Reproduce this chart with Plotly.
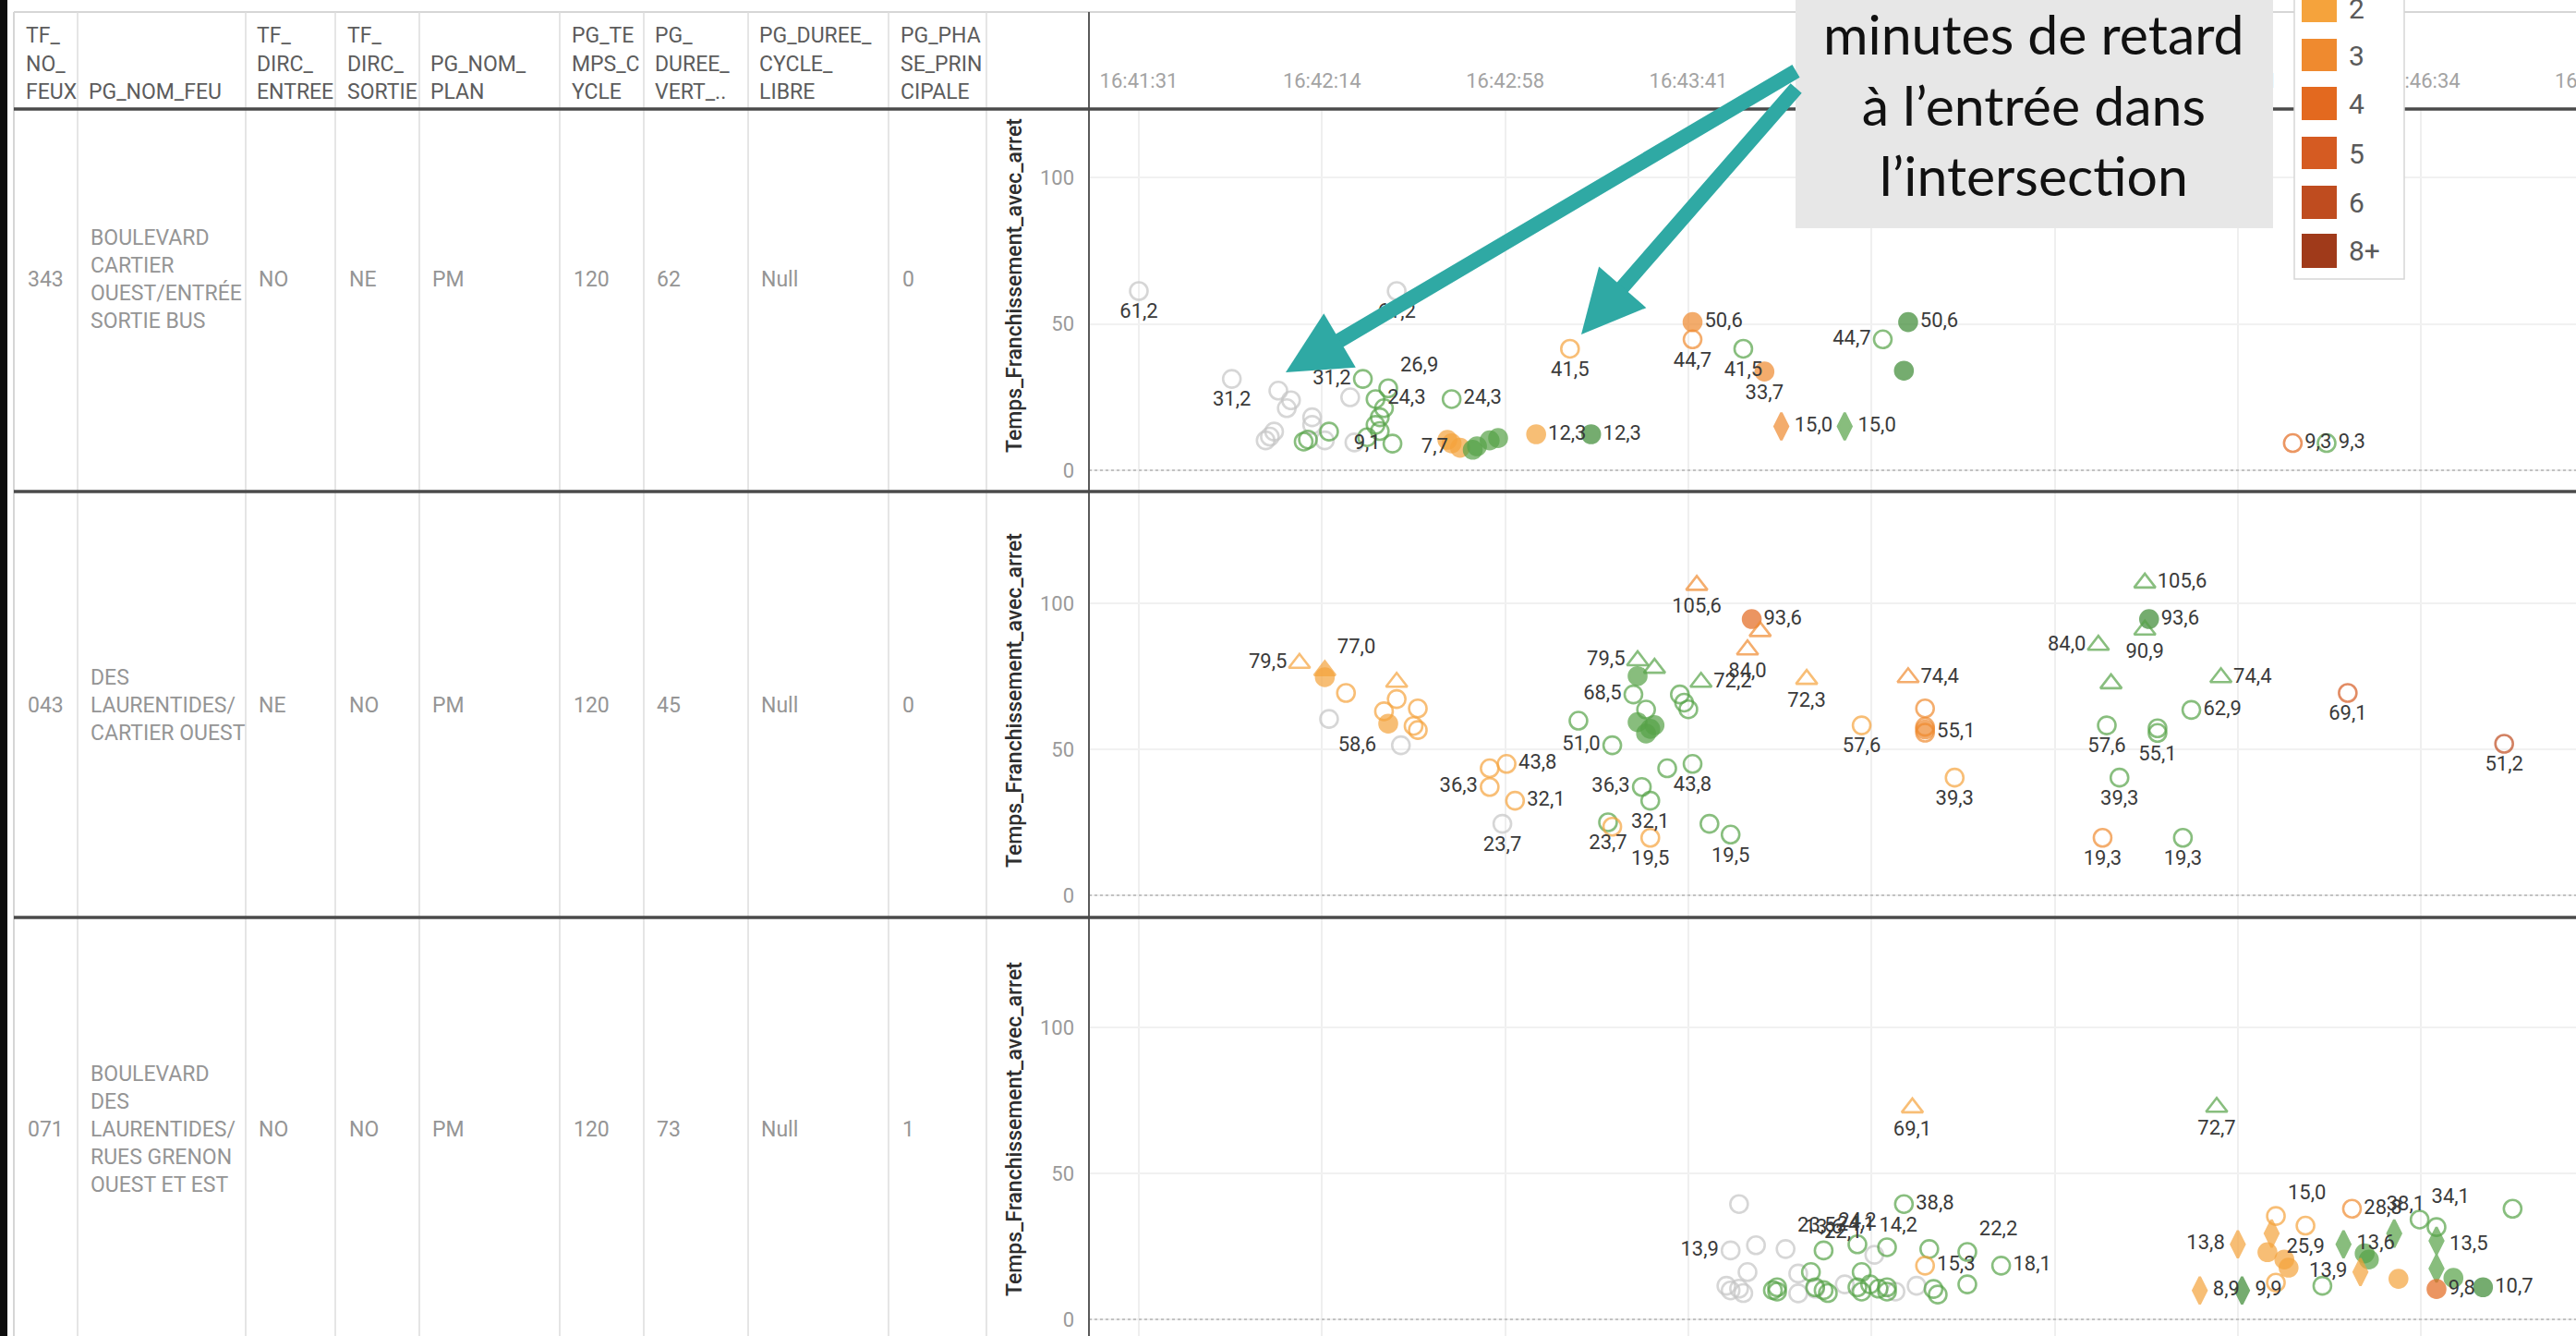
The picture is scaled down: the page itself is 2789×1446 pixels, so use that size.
import plotly.graph_objects as go

W, H = 2789, 1446
DAY = "2023-01-01 "
FONT = "Roboto, 'Liberation Sans', Arial, sans-serif"

# ---------------- x axis (time) ----------------
tick_times = ["16:41:31", "16:42:14.333", "16:42:57.667", "16:43:41",
              "16:44:24.333", "16:45:07.667", "16:45:51", "16:46:34.333"]
tick_labels = ["16:41:31", "16:42:14", "16:42:58", "16:43:41",
               "16:44:24", "16:45:08", "16:45:51", "16:46:34"]
cut_tick_label = "16:47:18"
x_start, x_end = "16:41:19.2", "16:47:11"

# ---------------- y axis ----------------
y_ticks = [0, 50, 100]
y_title = "Temps_Franchissement_avec_arret"

# ---------------- table ----------------
header_lines = [["TF_", "NO_", "FEUX"], ["", "", "PG_NOM_FEU"], ["TF_", "DIRC_", "ENTREE"],
                ["TF_", "DIRC_", "SORTIE"], ["", "PG_NOM_", "PLAN"], ["PG_TE", "MPS_C", "YCLE"],
                ["PG_", "DUREE_", "VERT_.."], ["PG_DUREE_", "CYCLE_", "LIBRE"],
                ["PG_PHA", "SE_PRIN", "CIPALE"]]
row_no = ["343", "043", "071"]
row_name = [["BOULEVARD", "CARTIER", "OUEST/ENTRÉE", "SORTIE BUS"],
            ["DES", "LAURENTIDES/", "CARTIER OUEST"],
            ["BOULEVARD", "DES", "LAURENTIDES/", "RUES GRENON", "OUEST ET EST"]]
row_entree = ["NO", "NE", "NO"]
row_sortie = ["NE", "NO", "NO"]
row_plan = ["PM", "PM", "PM"]
row_cycle = ["120", "120", "120"]
row_vert = ["62", "45", "73"]
row_libre = ["Null", "Null", "Null"]
row_phase = ["0", "0", "1"]

# ---------------- legend / callout ----------------
legend_labels = ["2", "3", "4", "5", "6", "8+"]
legend_colors = ["#f5a33c", "#ef8a2f", "#e3691f", "#d55b22", "#bf4c1f", "#a03a1a"]
callout_text = "minutes de retard<br>à l’entrée dans<br>l’intersection"

# ---------------- marks: row 1 (343) ----------------
r1_time = ["16:41:31", "16:42:32", "16:41:53", "16:42:04", "16:42:07", "16:42:06", "16:42:12",
           "16:42:12", "16:42:03", "16:42:01", "16:42:02", "16:42:21", "16:42:22", "16:42:15",
           "16:42:10", "16:42:11", "16:42:16", "16:42:24", "16:42:30", "16:42:27", "16:42:29",
           "16:42:28", "16:42:27", "16:42:28", "16:42:25", "16:42:31", "16:42:45",
           "16:42:44", "16:42:45", "16:42:47", "16:42:50", "16:42:51", "16:42:54", "16:42:56",
           "16:43:05", "16:43:18", "16:43:13",
           "16:43:42", "16:43:42", "16:43:54", "16:43:59", "16:44:03", "16:44:18", "16:44:27",
           "16:44:33", "16:44:32", "16:46:04", "16:46:12"]
r1_val = [61.2, 61.2, 31.2, 27.2, 23.9, 21.2, 18.1, 15.5, 13.2, 10.2, 11.5, 24.9, 9.5, 10.2,
          9.8, 10.5, 13.2, 31.2, 28.0, 24.3, 21.2, 18.1, 15.5, 13.4, 11.3, 9.1, 24.3,
          10.4, 9.2, 7.7, 7.0, 8.2, 10.2, 11.0, 12.3, 12.3, 41.5,
          50.6, 44.7, 41.5, 33.7, 15.0, 15.0, 44.7, 50.6, 34.0, 9.3, 9.3]
r1_cat = ["G"] * 14 + ["V"] * 13 + \
         ["2", "2", "2", "V", "V", "V", "V", "2", "DV", "2"] + \
         ["3", "3", "V", "3", "3", "V", "V", "DV", "DV", "4", "V"]
r1_sym = ["o"] * 14 + ["o"] * 13 + \
         ["c", "c", "c", "c", "c", "c", "c", "c", "c", "o"] + \
         ["c", "o", "o", "c", "d", "d", "o", "c", "c", "o", "o"]
r1_lab = ["61,2", "61,2", "31,2"] + [""] * 11 + \
         ["", "", "", "31,2", "26,9", "24,3", "", "", "", "", "", "9,1", "24,3"] + \
         ["", "", "7,7", "", "", "", "", "12,3", "12,3", "41,5"] + \
         ["50,6", "44,7", "41,5", "33,7", "15,0", "15,0", "44,7", "50,6", "", "9,3", "9,3"]
r1_pos = ["bc"] * 14 + \
         ["bc", "bc", "bc", "ml", "tr", "mr", "bc", "bc", "bc", "bc", "bc", "ml", "mr"] + \
         ["bc", "bc", "ml", "bc", "bc", "bc", "bc", "mr", "mr", "bc"] + \
         ["mr", "bc", "bc", "bc", "mr", "mr", "ml", "mr", "bc", "mr", "mr"]

# ---------------- marks: row 2 (043) ----------------
r2_time = ["16:42:09", "16:42:15", "16:42:15", "16:42:20", "16:42:32", "16:42:32", "16:42:29", "16:42:37", "16:42:30", "16:42:36",
           "16:42:37", "16:42:16", "16:42:33", "16:42:58", "16:42:54", "16:42:54", "16:43:00", "16:42:57", "16:43:29", "16:43:33",
           "16:43:29", "16:43:28", "16:43:39", "16:43:40", "16:43:41", "16:43:44", "16:43:31", "16:43:29", "16:43:32", "16:43:31",
           "16:43:33", "16:43:15", "16:43:23", "16:43:36", "16:43:42", "16:43:30", "16:43:32", "16:43:22", "16:43:23", "16:43:32",
           "16:43:46", "16:43:51", "16:43:43", "16:43:56", "16:43:58", "16:43:55", "16:44:09", "16:44:22", "16:44:33", "16:44:37",
           "16:44:37", "16:44:37", "16:44:37", "16:44:44", "16:45:29", "16:45:30", "16:45:29", "16:45:18", "16:45:21", "16:45:47",
           "16:45:40", "16:45:20", "16:45:32", "16:45:32", "16:45:23", "16:45:19", "16:45:38", "16:46:17", "16:46:54"]
r2_val = [79.5, 77.0, 74.7, 69.3, 73.0, 67.2, 63.0, 64.0, 58.8, 58.0,
          56.6, 60.4, 51.4, 45.0, 43.5, 37.1, 32.4, 24.5, 80.4, 77.8,
          75.1, 68.8, 68.8, 66.0, 63.7, 73.0, 63.6, 59.3, 57.0, 55.4,
          58.3, 59.8, 51.4, 43.5, 45.0, 37.1, 32.4, 25.0, 23.5, 19.7,
          24.5, 20.8, 106.2, 94.6, 90.4, 84.1, 74.0, 58.2, 74.6, 64.0,
          57.7, 55.7, 56.8, 40.3, 107.0, 94.6, 90.9, 85.7, 72.5, 74.6,
          63.5, 58.2, 57.2, 55.6, 40.3, 19.7, 19.7, 69.3, 51.9]
r2_cat = ["2", "2", "2", "2", "2", "2", "2", "2", "2", "2",
          "2", "G", "G", "2", "2", "2", "2", "G", "V", "V",
          "V", "V", "V", "V", "V", "V", "V", "V", "V", "V",
          "V", "V", "V", "V", "V", "V", "V", "V", "2", "2",
          "V", "V", "3", "4", "3", "3", "2", "2", "3", "3",
          "3", "3", "3", "2", "V", "DV", "V", "V", "V", "V",
          "V", "V", "V", "V", "V", "3", "V", "5", "6"]
r2_sym = ["t", "T", "c", "o", "t", "o", "o", "o", "c", "o",
          "o", "o", "o", "o", "o", "o", "o", "o", "t", "t",
          "c", "o", "o", "o", "o", "t", "o", "c", "c", "c",
          "c", "o", "o", "o", "o", "o", "o", "o", "o", "o",
          "o", "o", "t", "c", "t", "t", "t", "o", "t", "o",
          "o", "o", "c", "o", "t", "c", "t", "t", "t", "t",
          "o", "o", "o", "o", "o", "o", "o", "o", "o"]
r2_lab = ["79,5", "77,0", "", "", "", "", "", "", "58,6", "",
          "", "", "", "43,8", "", "36,3", "32,1", "23,7", "79,5", "",
          "", "68,5", "", "", "", "72,2", "", "", "", "",
          "", "", "51,0", "", "43,8", "36,3", "32,1", "23,7", "", "19,5",
          "", "19,5", "105,6", "93,6", "", "84,0", "72,3", "57,6", "74,4", "",
          "", "55,1", "", "39,3", "105,6", "93,6", "90,9", "84,0", "", "74,4",
          "62,9", "57,6", "", "55,1", "39,3", "19,3", "19,3", "69,1", "51,2"]
r2_pos = ["ml", "tr", "bc", "bc", "bc", "bc", "bc", "bc", "bl", "bc",
          "bc", "bc", "bc", "mr", "bc", "ml", "mr", "bc", "ml", "bc",
          "bc", "ml", "bc", "bc", "bc", "mr", "bc", "bc", "bc", "bc",
          "bc", "bc", "ml", "bc", "bc", "ml", "bc", "bc", "bc", "bc",
          "bc", "bc", "bc", "mr", "bc", "bc", "bc", "bc", "mr", "bc",
          "bc", "mr", "bc", "bc", "mr", "mr", "bc", "ml", "bc", "mr",
          "mr", "bc", "bc", "bc", "bc", "bc", "bc", "bc", "bc"]

# ---------------- marks: row 3 (071) ----------------
r3_time = ["16:44:34", "16:45:46", "16:43:53", "16:44:32", "16:43:51", "16:43:57", "16:44:04", "16:43:55", "16:43:50", "16:43:51",
           "16:43:53", "16:43:54", "16:44:07", "16:44:07", "16:44:25", "16:44:35", "16:44:18", "16:44:30", "16:44:11", "16:44:01",
           "16:44:02", "16:44:02", "16:44:10", "16:44:11", "16:44:13", "16:44:14", "16:44:13", "16:44:21", "16:44:22", "16:44:21",
           "16:44:22", "16:44:24", "16:44:26", "16:44:28", "16:44:28", "16:44:28", "16:44:38", "16:44:37", "16:44:39", "16:44:47",
           "16:44:47", "16:44:55", "16:44:40", "16:45:51", "16:45:42", "16:45:52", "16:46:00", "16:45:59", "16:45:58", "16:46:02",
           "16:46:03", "16:46:07", "16:46:00", "16:46:18", "16:46:16", "16:46:21", "16:46:22", "16:46:20", "16:46:11", "16:46:28",
           "16:46:34", "16:46:38", "16:46:38", "16:46:29", "16:46:38", "16:46:42", "16:46:38", "16:46:49", "16:46:56"]
r3_val = [72.5, 72.7, 39.5, 39.5, 23.6, 25.4, 24.1, 16.2, 11.5, 9.9,
          10.5, 9.0, 15.7, 8.9, 22.1, 11.5, 12.0, 9.5, 10.5, 10.0,
          11.0, 9.5, 16.2, 11.0, 10.0, 9.0, 23.6, 25.7, 16.2, 11.0,
          9.5, 12.0, 10.5, 11.0, 9.5, 24.7, 24.1, 18.4, 10.4, 23.1,
          12.0, 18.4, 8.5, 25.7, 9.9, 9.9, 35.4, 29.4, 23.0, 20.5,
          17.7, 32.1, 12.6, 37.9, 25.7, 22.6, 20.5, 16.2, 11.5, 29.4,
          34.2, 31.6, 26.9, 13.9, 17.4, 14.2, 10.4, 11.0, 37.9]
r3_cat = ["2", "V", "G", "V", "G", "G", "G", "G", "G", "G",
          "G", "G", "G", "G", "G", "G", "G", "G", "G", "V",
          "V", "V", "V", "V", "V", "V", "V", "V", "V", "V",
          "V", "V", "V", "V", "V", "V", "V", "2", "V", "V",
          "V", "V", "V", "2", "2", "DV", "2", "2", "2", "2",
          "2", "2", "2", "3", "V", "V", "V", "2", "V", "V",
          "V", "V", "V", "2", "V", "V", "4", "DV", "V"]
r3_sym = ["t", "t", "o", "o", "o", "o", "o", "o", "o", "o",
          "o", "o", "o", "o", "o", "o", "o", "o", "o", "o",
          "o", "o", "o", "o", "o", "o", "o", "o", "o", "o",
          "o", "o", "o", "o", "o", "o", "o", "o", "o", "o",
          "o", "o", "o", "d", "d", "d", "o", "d", "c", "c",
          "c", "o", "o", "o", "d", "c", "c", "d", "o", "d",
          "o", "o", "d", "c", "d", "c", "c", "c", "o"]
r3_lab = ["69,1", "72,7", "", "38,8", "13,9", "", "23,5", "", "", "",
          "", "", "", "", "22,1", "", "", "", "", "",
          "", "", "", "", "", "", "13,6", "24,2", "", "",
          "", "", "", "", "", "24,1", "14,2", "15,3", "", "22,2",
          "", "18,1", "", "13,8", "8,9", "9,9", "15,0", "", "", "",
          "", "25,9", "", "28,8", "13,6", "", "", "13,9", "", "",
          "34,1", "38,1", "", "", "13,5", "", "9,8", "10,7", ""]
r3_pos = ["bc", "bc", "bc", "mr", "ml", "bc", "tr", "bc", "bc", "bc",
          "bc", "bc", "bc", "bc", "tl", "bc", "bc", "bc", "bc", "bc",
          "bc", "bc", "bc", "bc", "bc", "bc", "tc", "tc", "bc", "bc",
          "bc", "bc", "bc", "bc", "bc", "tl", "tl", "mr", "bc", "tr",
          "bc", "mr", "bc", "ml", "mr", "mr", "tr", "bc", "bc", "bc",
          "bc", "bc", "bc", "mr", "mr", "bc", "bc", "ml", "bc", "bc",
          "tr", "tl", "bc", "bc", "tr", "bc", "mr", "mr", "bc"]

# ---------------- styles ----------------
COL = {"G": "#c4c4c4", "V": "#56a247", "DV": "#3b8a33", "2": "#f5a33c",
       "3": "#ef8a2f", "4": "#e3691f", "5": "#d55b22", "6": "#bf4c1f"}
SYM = {"o": "circle-open", "c": "circle", "t": "triangle-up-open",
       "T": "triangle-up", "d": "diamond-tall"}
SIZE = {"o": 19, "c": 19, "t": 20, "T": 20, "d": 21}
POS = {"bc": "bottom center", "tc": "top center", "ml": "middle left", "mr": "middle right",
       "tr": "top right", "tl": "top left", "bl": "bottom left"}


def xp(p):
    return p / W


def yp(p):
    return 1 - p / H


AX_X = 1179
rows_px = [dict(top=118, bottom=532, zero=509, hundred=192, mid=302, title=309),
           dict(top=532, bottom=993, zero=969, hundred=653, mid=763, title=758),
           dict(top=993, bottom=1446, zero=1428, hundred=1112, mid=1222, title=1222)]

fig = go.Figure()
data_rows = [(r1_time, r1_val, r1_cat, r1_sym, r1_lab, r1_pos),
             (r2_time, r2_val, r2_cat, r2_sym, r2_lab, r2_pos),
             (r3_time, r3_val, r3_cat, r3_sym, r3_lab, r3_pos)]
for i, (tt, vv, cc, ss, ll, pp) in enumerate(data_rows):
    sfx = "" if i == 0 else str(i + 1)
    cols = [COL[c] for c in cc]
    fig.add_trace(go.Scatter(
        x=[DAY + t for t in tt], y=vv, xaxis="x" + sfx, yaxis="y" + sfx,
        mode="markers+text", text=ll, textposition=[POS[p] for p in pp],
        textfont=dict(family=FONT, size=22, color="#3a3a3a"),
        marker=dict(symbol=[SYM[s] for s in ss], color=cols, size=[SIZE[s] for s in ss],
                    line=dict(width=2.6, color=cols)),
        hoverinfo="skip", showlegend=False))

layout = dict(width=W, height=H, margin=dict(l=0, r=0, t=0, b=0),
              paper_bgcolor="white", plot_bgcolor="rgba(0,0,0,0)",
              showlegend=False, hovermode=False)

for i, r in enumerate(rows_px):
    sfx = "" if i == 0 else str(i + 1)
    span = r["zero"] - r["hundred"]
    lo = (r["zero"] - r["bottom"]) / span * 100
    hi = (r["zero"] - r["top"]) / span * 100
    xa = dict(domain=[xp(AX_X), 1], anchor="y" + sfx, type="date",
              range=[DAY + x_start, DAY + x_end],
              tickvals=[DAY + t for t in tick_times], ticktext=tick_labels,
              showgrid=True, gridcolor="#efefef", gridwidth=2, zeroline=False,
              showline=False, ticks="", automargin=False)
    if i == 0:
        xa.update(side="top", showticklabels=True, ticklabelstandoff=18,
                  tickfont=dict(family=FONT, size=22, color="#a3a3a3"))
    else:
        xa.update(matches="x", showticklabels=False)
    ya = dict(domain=[yp(r["bottom"]), yp(r["top"])], anchor="x" + sfx,
              range=[lo, hi], tickvals=y_ticks, ticktext=[str(v) for v in y_ticks],
              showgrid=True, gridcolor="#f1f1f1", gridwidth=2, zeroline=False,
              showline=False, ticks="", ticklabelstandoff=15, automargin=False,
              tickfont=dict(family=FONT, size=22, color="#9a9a9a"))
    layout["xaxis" + sfx] = xa
    layout["yaxis" + sfx] = ya

shapes = []


def line(x0, y0, x1, y1, color, width, dash="solid", yref="paper", yv=None):
    d = dict(type="line", xref="paper", x0=xp(x0), x1=xp(x1), line=dict(color=color, width=width, dash=dash),
             layer="above")
    if yv is None:
        d.update(yref="paper", y0=yp(y0), y1=yp(y1))
    else:
        d.update(yref=yref, y0=yv, y1=yv)
    shapes.append(d)


def rect(x0, y0, x1, y1, fill, lc=None, lw=0):
    shapes.append(dict(type="rect", xref="paper", yref="paper", x0=xp(x0), x1=xp(x1),
                       y0=yp(y0), y1=yp(y1), fillcolor=fill,
                       line=dict(color=lc or fill, width=lw), layer="above"))


# table grid
line(15, 13, W, 13, "#d6d6d6", 2)
line(15, 13, 15, H, "#d6d6d6", 2)
for cx in [84, 266, 363, 454, 606, 697, 810, 962, 1068]:
    line(cx, 13, cx, H, "#dcdcdc", 1.5)
for i in range(3):
    sfx = "" if i == 0 else str(i + 1)
    line(AX_X, 0, W, 0, "#c2c2c2", 2, dash="dot", yref="y" + sfx, yv=0)
line(AX_X, 13, AX_X, H, "#5a5a5a", 2)
for yy in [118, 532, 993]:
    line(15, yy, W, yy, "#4a4a4a", 3.5)
rect(0, -5, 8, H + 5, "#0d0d0d")

# callout box and legend
rect(1944, -10, 2461, 247, "#e7e7e7")
rect(2484, -10, 2603, 302, "white", "#d6d6d6", 1.5)
sw_y = [(-10, 24), (42, 77), (94, 130), (148, 183), (201, 237), (253, 290)]
for (a, b), c in zip(sw_y, legend_colors):
    rect(2492, a, 2530, b, c)

ann = []
hx = [26, 94, 276, 374, 464, 617, 707, 820, 973]
for x, lines in zip(hx, header_lines):
    for yy, t in zip([38, 69, 100], lines):
        if t:
            ann.append(dict(x=xp(x), y=yp(yy), xref="paper", yref="paper", text=t, showarrow=False,
                            xanchor="left", yanchor="middle", font=dict(family=FONT, size=23, color="#5c5c5c")))
cell_cols = [row_no, ["<br>".join(n) for n in row_name], row_entree, row_sortie, row_plan,
             row_cycle, row_vert, row_libre, row_phase]
for x, col in zip(hx, cell_cols):
    for r, t in zip(rows_px, col):
        ann.append(dict(x=xp(x + 2), y=yp(r["mid"]), xref="paper", yref="paper", text=t, showarrow=False,
                        xanchor="left", yanchor="middle", align="left",
                        font=dict(family=FONT, size=23, color="#959595")))
for r in rows_px:
    ann.append(dict(x=xp(1098), y=yp(r["title"]), xref="paper", yref="paper", text=y_title,
                    showarrow=False, textangle=-90, xanchor="center", yanchor="middle",
                    font=dict(family=FONT, size=23, color="#2e2e2e", weight=500)))

# cut-off last tick label
ann.append(dict(x=xp(2808), y=yp(87), xref="paper", yref="paper", text=cut_tick_label, showarrow=False,
                xanchor="center", yanchor="middle", font=dict(family=FONT, size=22, color="#a3a3a3")))

# arrows
for (hx_, hy_), (tx_, ty_) in [((1392, 403), (1946, 76)), ((1712, 362), (1946, 94))]:
    ann.append(dict(x=xp(hx_), y=yp(hy_), xref="paper", yref="paper", text="", showarrow=True,
                    ax=tx_ - hx_, ay=ty_ - hy_, axref="pixel", ayref="pixel",
                    arrowhead=2, arrowsize=0.85, arrowwidth=16, arrowcolor="#2fa9a4", standoff=0))

ann.append(dict(x=xp(2202), y=yp(113), xref="paper", yref="paper", text=callout_text, showarrow=False,
                xanchor="center", yanchor="middle", align="center",
                font=dict(family="Lato, 'Open Sans', sans-serif", size=59, color="#111111")))

leg_y = [10, 61, 113, 166, 219, 271]
for yy, t in zip(leg_y, legend_labels):
    ann.append(dict(x=xp(2541), y=yp(yy), xref="paper", yref="paper", text=t, showarrow=False,
                    xanchor="left", yanchor="middle", font=dict(family=FONT, size=30, color="#5a5a5a")))

layout["shapes"] = shapes
layout["annotations"] = ann
fig.update_layout(**layout)
fig.write_html("out.html", config={"displayModeBar": False},
               post_script="document.body.style.margin='0px';document.body.style.overflow='hidden';")
